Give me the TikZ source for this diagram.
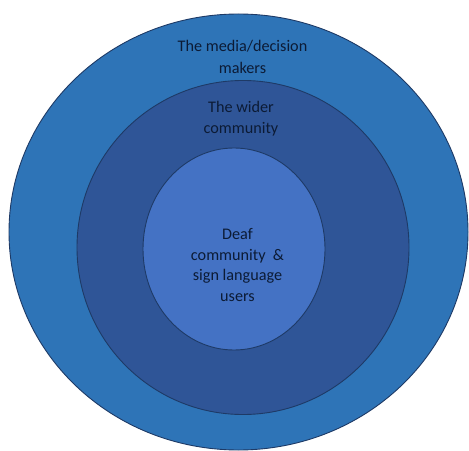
\documentclass[tikz,border=0pt]{standalone}
\usepackage{fontspec}
\setmainfont{Carlito}
\usetikzlibrary{shapes.geometric}
\definecolor{outerblue}{HTML}{2E74B7}
\definecolor{midblue}{HTML}{2F5597}
\definecolor{innerblue}{HTML}{4472C4}
\definecolor{edgeblue}{HTML}{1E3A66}
\definecolor{txt}{HTML}{0C1B35}
\tikzset{
  ring/.style={ellipse, draw=edgeblue, line width=0.9bp, inner sep=0pt},
  lbl/.style={text=txt, align=center, font=\fontsize{16.2bp}{20.8bp}\selectfont, inner sep=0pt}
}
\begin{document}
\begin{tikzpicture}[x=1bp,y=-1bp]
\useasboundingbox (0,0) rectangle (469,451);
\node[ring, fill=outerblue, minimum width=459bp, minimum height=436bp] (outer) at (238.5,232) {};
\node[ring, fill=midblue, minimum width=332bp, minimum height=334bp] (middle) at (243,247.5) {};
\node[ring, fill=innerblue, minimum width=182bp, minimum height=202bp] (inner) at (234,249) {};
\node[lbl, font=\fontsize{16.2bp}{21.6bp}\selectfont] (tmedia) at (242.5,57) {The media/decision\\makers};
\node[lbl] (twider) at (241,119) {The wider\\community};
\node[lbl] (tdeaf) at (237.5,265) {Deaf\\community~~\&\\sign language\\users};
\end{tikzpicture}
\end{document}
